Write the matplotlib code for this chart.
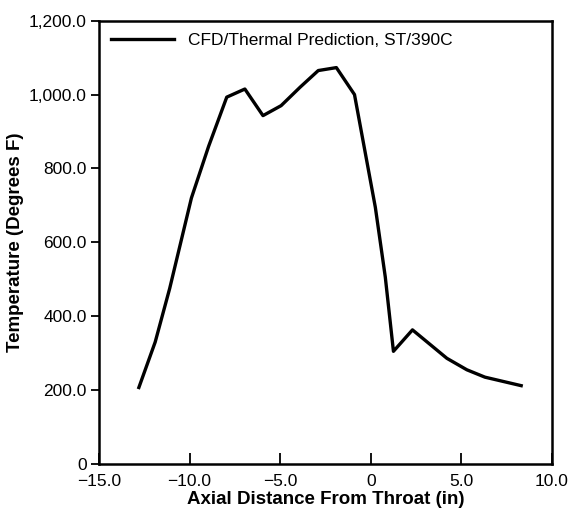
import matplotlib.pyplot as plt
from matplotlib.ticker import FixedLocator, FixedFormatter

plt.rcParams['font.family'] = ['Liberation Sans', 'DejaVu Sans']

# CFD/thermal prediction
axial_in = [-12.8, -11.9, -11.1, -9.9, -8.95, -7.95, -6.95, -5.95, -4.95,
            -3.9, -2.9, -1.9, -0.9, 0.25, 0.8, 1.25, 2.3, 4.2, 5.3, 6.3, 8.3]
temp_f = [207, 330, 475, 720, 860, 993, 1015, 943, 970,
          1020, 1065, 1073, 1000, 695, 506, 305, 363, 286, 255, 235, 212]

x_ticks = [-15, -10, -5, 0, 5, 10]
x_labels = ["\u221215.0", "\u221210.0", "\u22125.0", "0", "5.0", "10.0"]
y_ticks = [0, 200, 400, 600, 800, 1000, 1200]
y_labels = ["0", "200.0", "400.0", "600.0", "800.0", "1,000.0", "1,200.0"]


def main():
    fig = plt.figure(figsize=(5.71, 5.12), dpi=100)
    ax = fig.add_axes([0.1734, 0.0938, 0.7933, 0.8658])

    ax.plot(axial_in, temp_f, color="black", linewidth=2.4,
            label="CFD/Thermal Prediction, ST/390C")

    ax.set_xlim(-15, 10)
    ax.set_ylim(0, 1200)
    ax.xaxis.set_major_locator(FixedLocator(x_ticks))
    ax.xaxis.set_major_formatter(FixedFormatter(x_labels))
    ax.yaxis.set_major_locator(FixedLocator(y_ticks))
    ax.yaxis.set_major_formatter(FixedFormatter(y_labels))

    ax.tick_params(axis="x", direction="in", length=8, width=1.3,
                   labelsize=12.5, pad=7)
    ax.tick_params(axis="y", direction="out", length=6, width=1.3,
                   labelsize=12.5, pad=3)
    for spine in ax.spines.values():
        spine.set_linewidth(1.8)

    ax.set_xlabel("Axial Distance From Throat (in)", fontsize=13.5,
                  fontweight="bold", labelpad=2)
    ax.set_ylabel("Temperature (Degrees F)", fontsize=13.5,
                  fontweight="bold", labelpad=3)

    ax.legend(loc="upper left", frameon=False, fontsize=12.5,
              handlelength=3.6, borderaxespad=0.3, handletextpad=0.8)

    fig.savefig("out.png", dpi=100)


if __name__ == "__main__":
    main()
